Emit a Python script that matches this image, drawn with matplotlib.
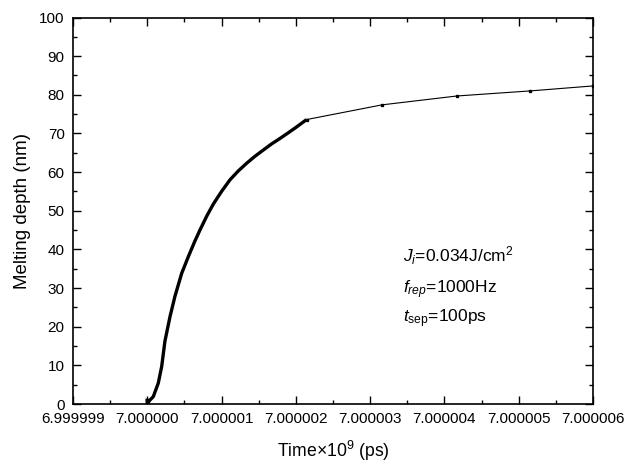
import numpy as np
import matplotlib
matplotlib.use("Agg")
import matplotlib.pyplot as plt
from matplotlib.ticker import MultipleLocator

plt.rcParams['font.family'] = ['Liberation Sans', 'DejaVu Sans']
plt.rcParams['mathtext.fontset'] = 'custom'
plt.rcParams['mathtext.rm'] = 'Liberation Sans'
plt.rcParams['mathtext.it'] = 'Liberation Sans:italic'
plt.rcParams['mathtext.bf'] = 'Liberation Sans:bold'

# thick segment (dense sampling during the pulse)
t_thick = [6.999999997, 7.000000000, 7.00000003, 7.000000081, 7.000000148, 7.000000194,
           7.000000238, 7.000000306, 7.000000373, 7.000000463, 7.000000552, 7.000000642,
           7.000000709, 7.000000800, 7.000000888, 7.000001000, 7.000001113, 7.000001225,
           7.000001338, 7.000001450, 7.000001561, 7.000001674, 7.000001786, 7.000001900,
           7.000002011, 7.000002145]
d_thick = [1.4, 0.0, 0.9, 1.9, 5.4, 9.7,
           16.3, 22.6, 27.9, 33.8, 38.1, 42.2,
           45.0, 48.6, 51.7, 55.0, 58.0, 60.3,
           62.3, 64.1, 65.7, 67.3, 68.7, 70.2,
           71.7, 73.6]

# thin segment (sparse points after the pulse)
t_thin = [7.000002145, 7.00000316, 7.00000417, 7.00000515, 7.0000060]
d_thin = [73.6, 77.4, 79.7, 81.0, 82.3]

xticks = [6.999999, 7.000000, 7.000001, 7.000002, 7.000003, 7.000004, 7.000005, 7.000006]
xticklabels = ["6.999999", "7.000000", "7.000001", "7.000002", "7.000003",
               "7.000004", "7.000005", "7.000006"]

fig = plt.figure(figsize=(6.33, 4.62), dpi=100)
ax = fig.add_axes([0.1153, 0.1255, 0.8215, 0.8366])

ax.plot(t_thick, d_thick, color='black', lw=2.4, solid_joinstyle='round', solid_capstyle='butt')
ax.plot(t_thin, d_thin, color='black', lw=0.8, marker='s', ms=2.0)

ax.set_xlim(6.999999, 7.000006)
ax.set_ylim(0, 100)
ax.set_xticks(xticks)
ax.set_xticklabels(xticklabels)
ax.xaxis.set_minor_locator(MultipleLocator(0.0000005))
ax.set_yticks(np.arange(0, 101, 10))
ax.yaxis.set_minor_locator(MultipleLocator(5))

ax.tick_params(which='both', direction='in', top=True, right=True, labelsize=11, width=1.0)
ax.tick_params(which='major', length=5.5, pad=6)
ax.tick_params(which='minor', length=3)
for s in ax.spines.values():
    s.set_linewidth(1.2)

ax.set_xlabel(r"Time$\times$10$^{9}$ (ps)", fontsize=12.7, labelpad=9)
ax.set_ylabel("Melting depth (nm)", fontsize=13.5, labelpad=6)

ax.text(0.635, 0.383, r"$J_{i}$=0.034J/cm$^{2}$", transform=ax.transAxes, fontsize=12.5, va='center')
ax.text(0.635, 0.295, r"$f_{rep}$=1000Hz", transform=ax.transAxes, fontsize=12.5, va='center')
ax.text(0.635, 0.222, r"$t_{\mathrm{sep}}$=100ps", transform=ax.transAxes, fontsize=12.5, va='center')

fig.savefig("out.png", dpi=100)
